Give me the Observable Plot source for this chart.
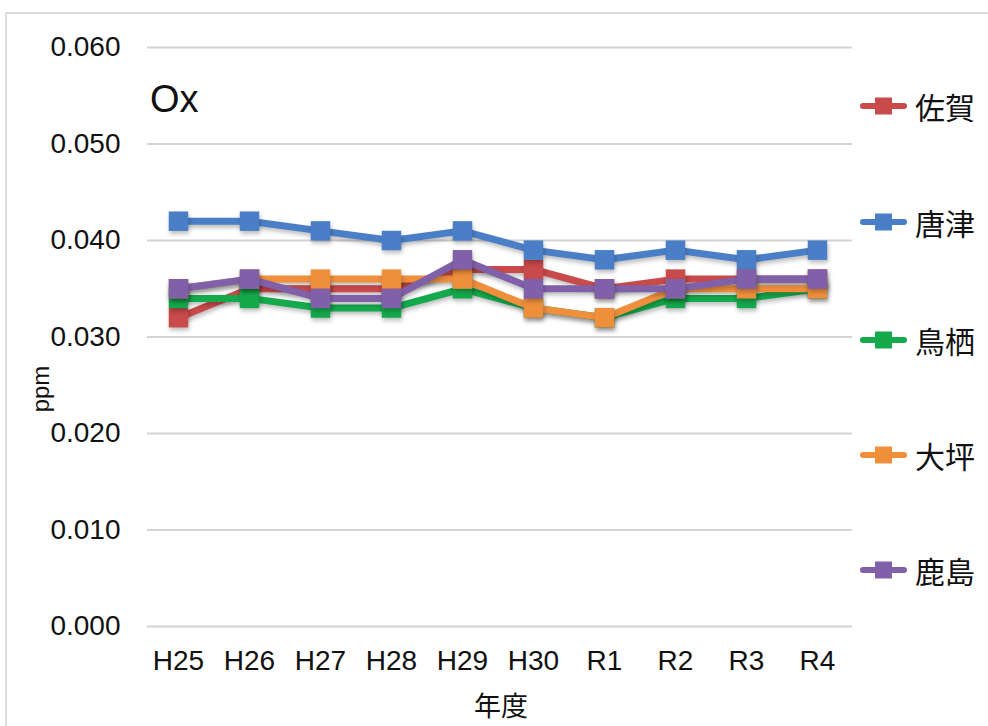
<!DOCTYPE html>
<html>
<head>
<meta charset="utf-8">
<script src="https://cdn.jsdelivr.net/npm/d3@7"></script>
<script src="https://cdn.jsdelivr.net/npm/@observablehq/plot@0.6"></script>
<style>
  html, body { margin: 0; padding: 0; background: #fff; }
  #wrap { position: relative; width: 988px; height: 726px; overflow: hidden; font-family: "Liberation Sans", "Noto Sans CJK JP", sans-serif; }
  #frame { position: absolute; left: 5px; top: 12px; width: 1000px; height: 800px; border-top: 2px solid #dcdcdc; border-left: 2px solid #dcdcdc; }
  .lbl { position: absolute; color: #111; white-space: nowrap; }
  .leg { position: absolute; left: 857px; height: 32px; display: flex; align-items: center; }
  .leg span { font-family: "Noto Sans CJK JP", sans-serif; font-size: 30px; color: #111; margin-left: 6px; }
</style>
</head>
<body>
<div id="wrap">
  <div id="frame"></div>
  <div id="chart" style="position:absolute;left:0;top:0;"></div>
</div>
<script>
const years = ["H25", "H26", "H27", "H28", "H29", "H30", "R1", "R2", "R3", "R4"];
const seriesNames = ["佐賀", "唐津", "鳥栖", "大坪", "鹿島"];
const seriesColors = ["#c84a4a", "#4a7fc8", "#14aa4c", "#ef8f3c", "#8060a8"];
const saga    = [0.032, 0.035, 0.035, 0.035, 0.037, 0.037, 0.035, 0.036, 0.036, 0.036];
const karatsu = [0.042, 0.042, 0.041, 0.040, 0.041, 0.039, 0.038, 0.039, 0.038, 0.039];
const tosu    = [0.034, 0.034, 0.033, 0.033, 0.035, 0.033, 0.032, 0.034, 0.034, 0.035];
const oohira  = [0.035, 0.036, 0.036, 0.036, 0.036, 0.033, 0.032, 0.035, 0.035, 0.035];
const kashima = [0.035, 0.036, 0.034, 0.034, 0.038, 0.035, 0.035, 0.035, 0.036, 0.036];
const yTicks = [0, 0.01, 0.02, 0.03, 0.04, 0.05, 0.06];
const titleText = "Ox";
const yLabel = "ppm";
const xLabel = "年度";

const allValues = [saga, karatsu, tosu, oohira, kashima];
const data = [];
allValues.forEach((vals, si) => {
  vals.forEach((v, i) => data.push({series: seriesNames[si], year: years[i], value: v}));
});

const marks = [
  Plot.ruleY(yTicks, {stroke: "#d4d4d4", strokeWidth: 2})
];
seriesNames.forEach((name, si) => {
  const d = data.filter(r => r.series === name);
  marks.push(Plot.line(d, {x: "year", y: "value", stroke: seriesColors[si], strokeWidth: 7, strokeLinejoin: "round", strokeLinecap: "round"}));
  marks.push(Plot.dot(d, {x: "year", y: "value", symbol: "square", r: 11, fill: seriesColors[si], stroke: "none"}));
});

const chart = Plot.plot({
  width: 988,
  height: 726,
  marginTop: 47,
  marginBottom: 100,
  marginLeft: 147,
  marginRight: 136,
  style: {background: "transparent", fontFamily: "Liberation Sans, sans-serif", fontSize: "28px", color: "#111"},
  x: {type: "point", domain: years, range: [176, 818], padding: 0, label: null, tickSize: 0, tickPadding: 24},
  y: {domain: [0, 0.06], ticks: yTicks, tickFormat: d3.format(".3f"), label: null, tickSize: 0, tickPadding: 27},
  marks
});
document.getElementById("chart").appendChild(chart);

// subtle shadow under series, as in the original
chart.querySelectorAll('g[aria-label="line"], g[aria-label="dot"]').forEach(g => {
  g.style.filter = "drop-shadow(1px 3px 2px rgba(0,0,0,0.25))";
});

const wrap = document.getElementById("wrap");
function addLabel(text, css) {
  const el = document.createElement("div");
  el.className = "lbl";
  el.textContent = text;
  Object.assign(el.style, css);
  wrap.appendChild(el);
  return el;
}
addLabel(titleText, {left: "150px", top: "78px", fontSize: "38px", fontFamily: "Liberation Sans, sans-serif"});
addLabel(yLabel, {left: "41px", top: "389px", fontSize: "24px", transform: "translate(-50%,-50%) rotate(-90deg)"});
addLabel(xLabel, {left: "501px", top: "705px", fontSize: "27px", lineHeight: "30px", fontFamily: "Noto Sans CJK JP, sans-serif", transform: "translate(-50%,-50%)"});

const legendY = [106, 222, 340, 455, 570];
seriesNames.forEach((name, i) => {
  const item = document.createElement("div");
  item.className = "leg";
  item.style.top = (legendY[i] - 16) + "px";
  item.innerHTML = `<svg width="52" height="32"><line x1="6" y1="16" x2="47" y2="16" stroke="${seriesColors[i]}" stroke-width="6" stroke-linecap="round"/><rect x="18" y="7.5" width="17" height="17" fill="${seriesColors[i]}"/></svg><span>${name}</span>`;
  wrap.appendChild(item);
});
</script>
</body>
</html>
